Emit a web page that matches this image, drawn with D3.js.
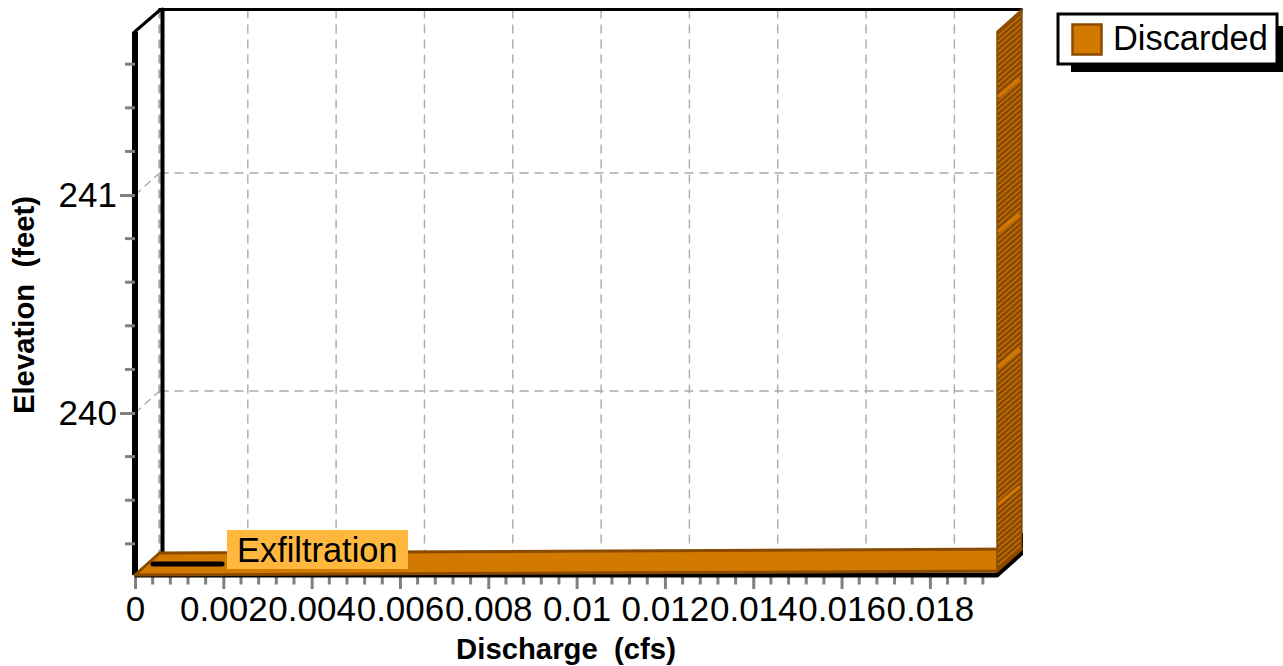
<!DOCTYPE html>
<html><head><meta charset="utf-8">
<script src="https://cdn.jsdelivr.net/npm/d3@7"></script>
<style>
html,body{margin:0;padding:0;background:#fff;overflow:hidden}
text{font-family:"Liberation Sans",Arial,sans-serif;fill:#000;white-space:pre}
</style></head><body><svg id="c" width="1283" height="666"></svg>
<script>
const discharge = [0, 0.01952, 0.01952];
const elevation = [239.257, 239.275, 241.75];
const streakElevations = [239.58, 240.21, 240.83, 241.45];
const xTickValues = [0,0.002,0.004,0.006,0.008,0.01,0.012,0.014,0.016,0.018];
const xTickLabels = ["0","0.002","0.004","0.006","0.008","0.01","0.012","0.014","0.016","0.018"];
const xMinor = [0.0004,0.0008,0.0012,0.0016];
const yTickValues = [240,241];
const yMinorValues = [239.4,239.6,239.8,240.2,240.4,240.6,240.8,241.2,241.4,241.6];
const seriesName = "Discarded", annotation = "Exfiltration";
const xTitle = "Discharge  (cfs)", yTitle = "Elevation  (feet)";

const svg = d3.select("#c");
const xMax = discharge[1], yMin = elevation[0], yMax = elevation[2];
const x = d3.scaleLinear().domain([0,xMax]).range([135,997]);
const y = d3.scaleLinear().domain([yMin,yMax]).range([575,31.5]);
const dx = 24.5, dy = -22;
const ORANGE="#d27a00", DARK="#8a4a00", GRID="#ababab", TICK="#808080";
const FONT='"Liberation Sans",Arial,sans-serif';

const defs = svg.append("defs");
const pat = defs.append("pattern").attr("id","hatch").attr("patternUnits","userSpaceOnUse")
  .attr("width",6).attr("height",5.4).attr("patternTransform","skewY(-40.8)");
pat.append("rect").attr("width",6).attr("height",5.4).attr("fill",DARK);
pat.append("rect").attr("width",6).attr("y",0).attr("height",1.6).attr("fill","#c9750a");

// back wall grid
const gridG = svg.append("g").attr("fill","none").attr("stroke",GRID).attr("stroke-width",1.4).attr("stroke-dasharray","9 6");
xTickValues.slice(1).forEach(v=>gridG.append("line")
  .attr("x1",x(v)+dx).attr("x2",x(v)+dx).attr("y1",y(yMax)+dy).attr("y2",y(yMin)+dy));
yTickValues.forEach(v=>{
  gridG.append("line").attr("x1",x(0)+dx).attr("x2",x(xMax)).attr("y1",y(v)+dy).attr("y2",y(v)+dy);
  gridG.append("line").attr("x1",x(0)).attr("x2",x(0)+dx).attr("y1",y(v)).attr("y2",y(v)+dy).attr("stroke-dasharray","8 5");
});
gridG.append("line").attr("x1",x(0)+dx).attr("x2",x(0)+dx).attr("y1",y(yMax)+dy).attr("y2",y(yMin)+dy).attr("stroke-width",2.5);

// frame
const frame = svg.append("g").attr("fill","none").attr("stroke","#000").attr("stroke-linecap","round");
frame.append("line").attr("x1",x(0)+dx+3).attr("x2",x(0)+dx+3).attr("y1",y(yMax)+dy).attr("y2",y(yMin)+dy).attr("stroke-width",4);
frame.append("line").attr("x1",x(0)+dx).attr("x2",x(xMax)+dx).attr("y1",y(yMax)+dy).attr("y2",y(yMax)+dy).attr("stroke-width",3);
frame.append("line").attr("x1",x(0)).attr("x2",x(0)+dx+1).attr("y1",y(yMax)).attr("y2",y(yMax)+dy).attr("stroke-width",3);
frame.append("line").attr("x1",x(xMax)+dx).attr("x2",x(xMax)+dx).attr("y1",y(yMax)+dy).attr("y2",y(yMin)+dy).attr("stroke-width",2).attr("stroke","#333");

// axes ticks
const xAxis = d3.axisBottom(x).tickValues(xTickValues).tickFormat((d,i)=>xTickLabels[i]).tickSize(14).tickPadding(7);
const xg = svg.append("g").attr("transform","translate(0,575)").call(xAxis);
xg.select(".domain").remove();
xg.selectAll("line").attr("stroke",TICK).attr("stroke-width",3);
xg.selectAll("text").attr("font-size",35).style("font-family",FONT).attr("fill","#000");
const minors = xTickValues.flatMap(b=>xMinor.map(m=>b+m)).filter(v=>v<xMax);
svg.append("g").selectAll("line").data(minors).join("line")
  .attr("x1",d=>x(d)).attr("x2",d=>x(d)).attr("y1",575).attr("y2",584.5).attr("stroke",TICK).attr("stroke-width",3);

const yAxis = d3.axisLeft(y).tickValues(yTickValues).tickFormat(d3.format("d")).tickSize(15).tickPadding(3);
const yg = svg.append("g").attr("transform","translate(135,0)").call(yAxis);
yg.select(".domain").remove();
yg.selectAll("line").attr("stroke",TICK).attr("stroke-width",3);
yg.selectAll("text").attr("font-size",35).style("font-family",FONT).attr("fill","#000");
svg.append("g").selectAll("line").data(yMinorValues).join("line")
  .attr("x1",125).attr("x2",135).attr("y1",d=>y(d)).attr("y2",d=>y(d)).attr("stroke",TICK).attr("stroke-width",3);

// thick front axes
frame.append("line").attr("x1",x(0)).attr("x2",x(0)).attr("y1",y(yMax)).attr("y2",y(yMin)).attr("stroke-width",6).attr("stroke-linecap","butt");
svg.append("path").attr("fill","none").attr("stroke","#000").attr("stroke-width",5).attr("stroke-linejoin","round")
  .attr("d",d3.line()([[x(0),y(yMin)],[x(xMax),y(yMin)],[x(xMax)+dx-1,y(yMin)+dy+1],[x(xMax)+dx-1,y(yMin)+dy-20]]));

// series ribbons
const pts = discharge.map((d,i)=>[x(d),y(elevation[i])]);
d3.range(pts.length-1).forEach(i=>{
  const a=pts[i], b=pts[i+1];
  const quad=[a,b,[b[0]+dx,b[1]+dy],[a[0]+dx,a[1]+dy]];
  svg.append("path").attr("d",d3.line()(quad)+"Z")
    .attr("fill", i===0?ORANGE:"url(#hatch)").attr("stroke",DARK).attr("stroke-width",i===0?3:1.5).attr("stroke-linejoin","round");
});
svg.append("g").selectAll("line").data(streakElevations).join("line")
  .attr("x1",x(xMax)+1).attr("x2",x(xMax)+dx-2)
  .attr("y1",d=>y(d)).attr("y2",d=>y(d)+dy+4)
  .attr("stroke",ORANGE).attr("stroke-width",3);

// annotation
svg.append("line").attr("x1",153).attr("x2",222).attr("y1",564).attr("y2",564).attr("stroke","#000").attr("stroke-width",5).attr("stroke-linecap","round");
svg.append("rect").attr("x",227).attr("y",530).attr("width",181).attr("height",39).attr("fill","#ffb83d");
svg.append("text").attr("x",237).attr("y",562).attr("font-size",34.4).text(annotation);

// titles
svg.append("text").attr("x",566).attr("y",659).attr("text-anchor","middle").attr("font-size",29.3).attr("font-weight","bold").text(xTitle);
svg.append("text").attr("transform","translate(34,305) rotate(-90)").attr("text-anchor","middle").attr("font-size",29.3).attr("font-weight","bold").text(yTitle);

// legend
svg.append("rect").attr("x",1071).attr("y",26).attr("width",212).attr("height",46).attr("fill","#000");
svg.append("rect").attr("x",1058).attr("y",14).attr("width",219).attr("height",50).attr("fill","#fff").attr("stroke","#000").attr("stroke-width",3);
svg.append("rect").attr("x",1072.5).attr("y",24.5).attr("width",29).attr("height",30).attr("fill",ORANGE).attr("stroke",DARK).attr("stroke-width",2.5);
svg.append("text").attr("x",1113).attr("y",50).attr("font-size",34.4).text(seriesName);
</script></body></html>
